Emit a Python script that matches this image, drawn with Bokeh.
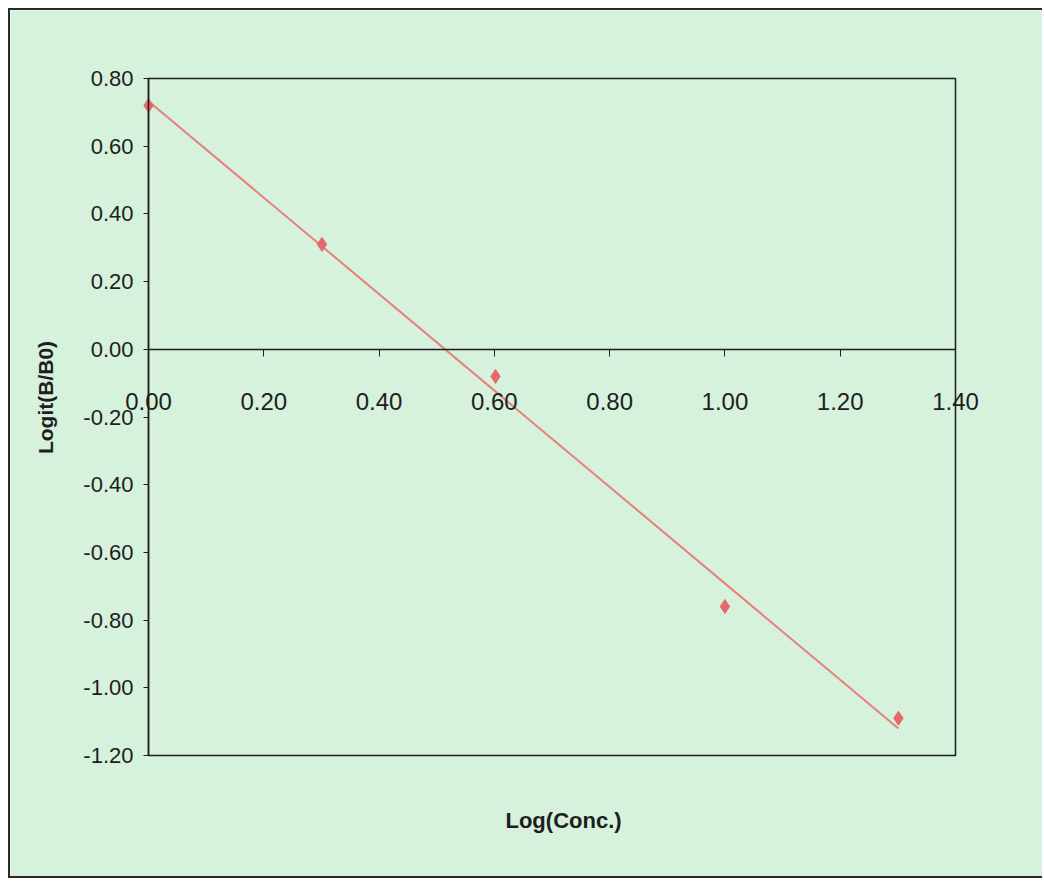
import numpy as np
from bokeh.plotting import figure
from bokeh.models import FixedTicker, PrintfTickFormatter, Label, Range1d, BoxAnnotation
from bokeh.embed import file_html
from bokeh.resources import INLINE

# ---- data ----
log_conc = [0.0, 0.301, 0.602, 1.0, 1.301]
logit_b_b0 = [0.72, 0.31, -0.08, -0.76, -1.09]
x_ticks = [0.0, 0.2, 0.4, 0.6, 0.8, 1.0, 1.2, 1.4]
y_ticks = [-1.2, -1.0, -0.8, -0.6, -0.4, -0.2, 0.0, 0.2, 0.4, 0.6, 0.8]
x_title = "Log(Conc.)"
y_title = "Logit(B/B0)"

# plot-area extent (axis range)
X_MIN, X_MAX = 0.0, 1.4
Y_MIN, Y_MAX = -1.2, 0.8

BG = "#d6f1dc"
INK = "#1e1e1e"
RED = "#e8807a"
MARK = "#e5696a"
FONT = "Liberation Sans"

slope, intercept = np.polyfit(log_conc, logit_b_b0, 1)
fit_x = [min(log_conc), max(log_conc)]
fit_y = [intercept + slope * v for v in fit_x]

W, H = 1034, 870
# frame covers the whole canvas; the data box sits inside it
px_per_x = 807 / (X_MAX - X_MIN)
px_per_y = 677 / (Y_MAX - Y_MIN)
x_range = Range1d(X_MIN - 138 / px_per_x, X_MAX + 89 / px_per_x)
y_range = Range1d(Y_MIN - 125 / px_per_y, Y_MAX + 68 / px_per_y)

p = figure(width=W, height=H, output_backend="svg", toolbar_location=None,
           x_range=x_range, y_range=y_range,
           min_border_left=0, min_border_right=0, min_border_top=0, min_border_bottom=0)
p.styles = {"margin-left": "8px", "margin-top": "8px",
            "border-left": "2px solid #2a2a2a", "border-top": "2px solid #2a2a2a",
            "border-bottom": "2px solid #2a2a2a", "border-right": "none"}
p.background_fill_color = BG
p.border_fill_color = BG
p.outline_line_color = None
p.xgrid.visible = False
p.ygrid.visible = False

# plot-area box
p.add_layout(BoxAnnotation(left=X_MIN, right=X_MAX, bottom=Y_MIN, top=Y_MAX,
                           fill_alpha=0, line_color=INK, line_alpha=1.0, line_width=1.5,
                           level="underlay"))

# x axis crossing at y = 0
xa = p.xaxis[0]
xa.fixed_location = 0
xa.bounds = (X_MIN, X_MAX)
xa.ticker = FixedTicker(ticks=x_ticks)
xa.formatter = PrintfTickFormatter(format="%.2f")
xa.major_tick_in = 0
xa.major_tick_out = 7
xa.minor_tick_line_color = None
xa.axis_line_color = INK
xa.axis_line_width = 1.5
xa.major_tick_line_color = INK
xa.major_label_standoff = 37
xa.major_label_text_font = FONT
xa.major_label_text_font_size = "24px"
xa.major_label_text_color = INK

# y axis at x = 0
ya = p.yaxis[0]
ya.fixed_location = 0
ya.bounds = (Y_MIN, Y_MAX)
ya.ticker = FixedTicker(ticks=y_ticks)
ya.formatter = PrintfTickFormatter(format="%.2f")
ya.major_tick_in = 0
ya.major_tick_out = 5
ya.minor_tick_line_color = None
ya.axis_line_color = INK
ya.axis_line_width = 1.5
ya.major_tick_line_color = INK
ya.major_label_standoff = 10
ya.major_label_text_font = FONT
ya.major_label_text_font_size = "22px"
ya.major_label_text_color = INK

p.line(fit_x, fit_y, line_color=RED, line_width=2)
p.scatter(log_conc, logit_b_b0, marker="diamond", size=14, fill_color=MARK, line_color=MARK)

p.add_layout(Label(x=0.72, y=-1.392, text=x_title, text_align="center", text_baseline="middle",
                   text_font=FONT, text_font_style="bold", text_font_size="22px",
                   text_color=INK))
p.add_layout(Label(x=-0.1787, y=-0.1424, text=y_title, angle=np.pi / 2, text_align="center",
                   text_baseline="middle", text_font=FONT, text_font_style="bold",
                   text_font_size="21px", text_color=INK))

open("out.html", "w").write(file_html(p, INLINE))
